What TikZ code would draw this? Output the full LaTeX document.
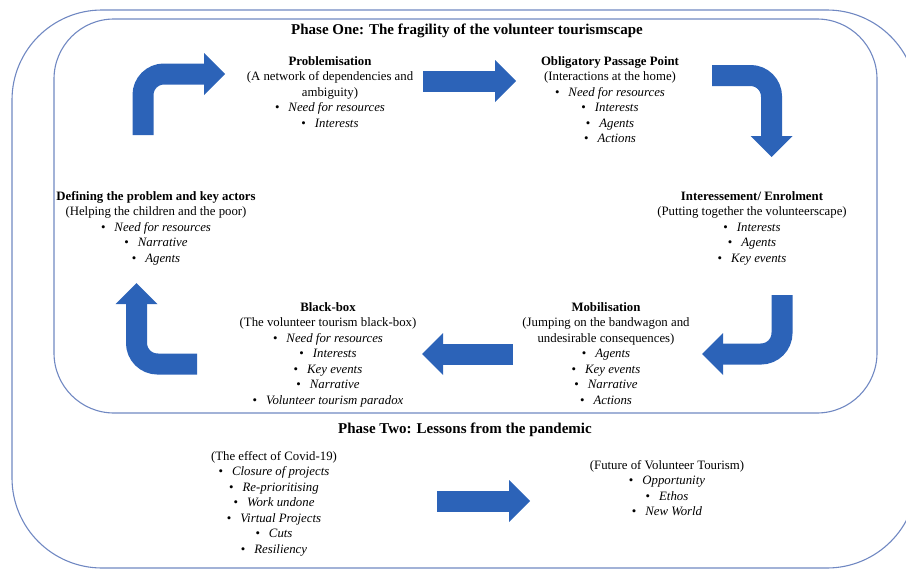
\documentclass[tikz,border=0pt]{standalone}
\usepackage{fontspec}
\setmainfont{Liberation Serif}
\usepackage{xcolor}
\usetikzlibrary{arrows.meta}

\definecolor{arrblue}{RGB}{44,99,184}
\definecolor{frameblue}{RGB}{112,136,194}

\newcommand{\itm}[1]{\textbullet\hspace{0.7em}\textit{#1}}

\begin{document}
\begin{tikzpicture}[
  x=1pt, y=-1pt,
  outline/.style={draw=frameblue, line width=1.1pt, rounded corners=#1},
  stage/.style={align=center, inner sep=0pt, anchor=north, font=\fontsize{12.8}{15.5}\selectfont},
  phase/.style={inner sep=0pt, font=\fontsize{15}{17}\selectfont\bfseries},
  blk/.style={draw=arrblue, line width=21pt, rounded corners=21pt,
    -{Triangle[length=21pt, width=42pt, line width=0pt]}},
]
\useasboundingbox (0,0) rectangle (906,570);

% the two phases
\draw[outline=90pt] (12,10) rectangle (917,568);
\draw[outline=60pt] (54,19) rectangle (877,413);

% phase one
\node[phase] (one) at (467,31) {Phase One: The fragility of the volunteer tourismscape};
\node[stage] (prob) at (330,56) {\textbf{Problemisation}\\(A network of dependencies and\\ambiguity)\\\itm{Need for resources}\\\itm{Interests}};
\node[stage] (opp) at (610,56) {\textbf{Obligatory Passage Point}\\(Interactions at the home)\\\itm{Need for resources}\\\itm{Interests}\\\itm{Agents}\\\itm{Actions}};
\node[stage] (inter) at (752,191) {\textbf{Interessement/ Enrolment}\\(Putting together the volunteerscape)\\\itm{Interests}\\\itm{Agents}\\\itm{Key events}};
\node[stage] (mob) at (606,302) {\textbf{Mobilisation}\\(Jumping on the bandwagon and\\undesirable consequences)\\\itm{Agents}\\\itm{Key events}\\\itm{Narrative}\\\itm{Actions}};
\node[stage] (bbox) at (328,302) {\textbf{Black-box}\\(The volunteer tourism black-box)\\\itm{Need for resources}\\\itm{Interests}\\\itm{Key events}\\\itm{Narrative}\\\itm{Volunteer tourism paradox}};
\node[stage] (defn) at (156,191) {\textbf{Defining the problem and key actors}\\(Helping the children and the poor)\\\itm{Need for resources}\\\itm{Narrative}\\\itm{Agents}};

% phase two
\node[phase] (two) at (465,430) {Phase Two: Lessons from the pandemic};
\node[stage] (covid) at (274,451) {(The effect of Covid-19)\\\itm{Closure of projects}\\\itm{Re-prioritising}\\\itm{Work undone}\\\itm{Virtual Projects}\\\itm{Cuts}\\\itm{Resiliency}};
\node[stage] (future) at (667,460) {(Future of Volunteer Tourism)\\\itm{Opportunity}\\\itm{Ethos}\\\itm{New World}};

% block arrows
\coordinate (a1s) at (143,135);   \coordinate (a1e) at (225,74);
\coordinate (a2s) at (423,81);    \coordinate (a2e) at (516,81);
\coordinate (a3s) at (712,75.5);  \coordinate (a3e) at (771.5,157);
\coordinate (a4s) at (782,295);   \coordinate (a4e) at (702,354);
\coordinate (a5s) at (513,354);   \coordinate (a5e) at (422,354);
\coordinate (a6s) at (197,364);   \coordinate (a6e) at (136.5,283);
\coordinate (a7s) at (437,501);   \coordinate (a7e) at (530,501);

\draw[blk] (a1s) |- (a1e);
\draw[blk] (a2s) -- (a2e);
\draw[blk] (a3s) -| (a3e);
\draw[blk] (a4s) |- (a4e);
\draw[blk] (a5s) -- (a5e);
\draw[blk] (a6s) -| (a6e);
\draw[blk] (a7s) -- (a7e);
\end{tikzpicture}
\end{document}
